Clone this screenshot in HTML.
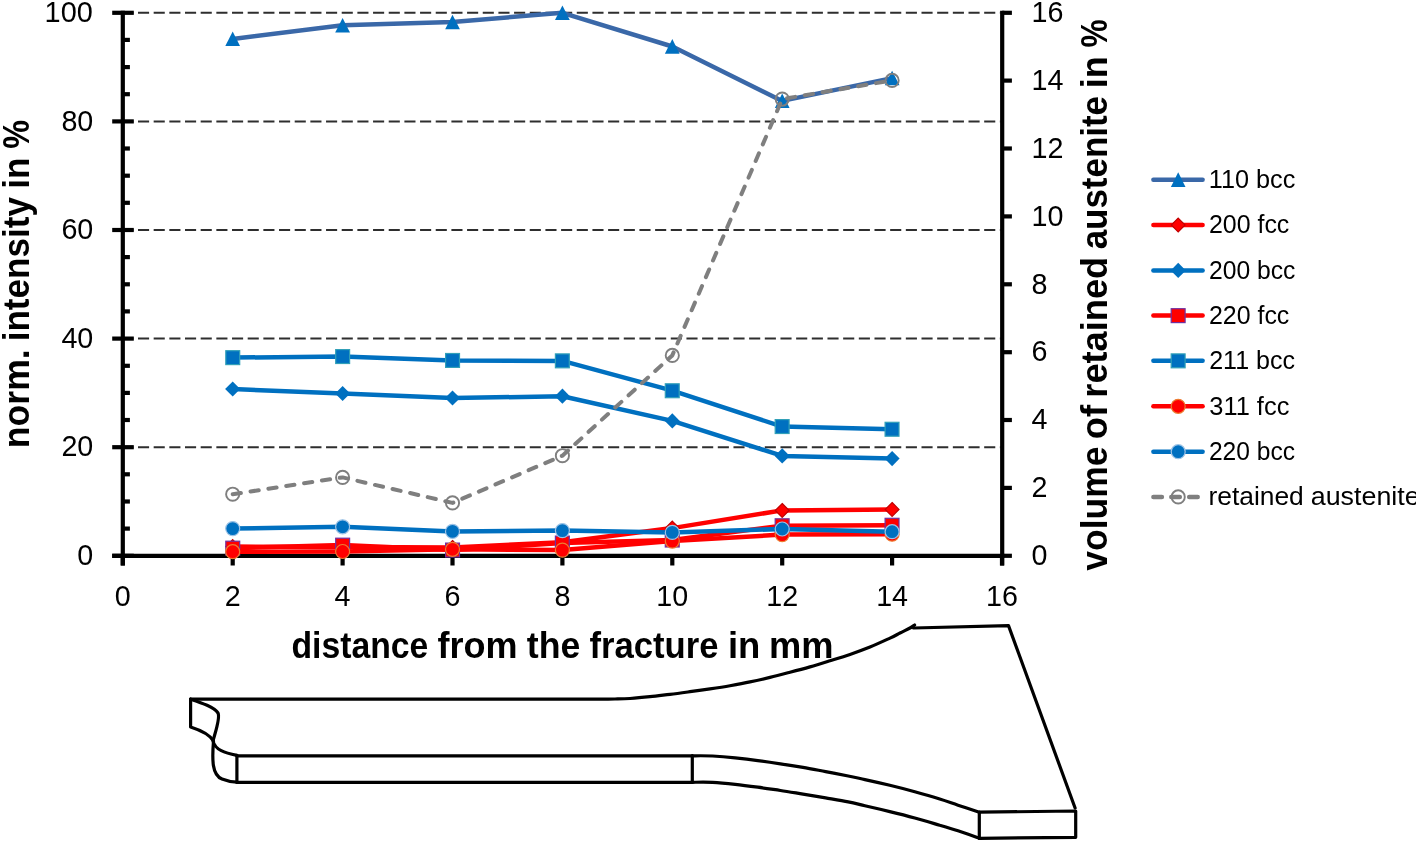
<!DOCTYPE html>
<html><head><meta charset="utf-8"><style>
html,body{margin:0;padding:0;background:#fff;}
svg{display:block;}
</style></head><body>
<svg width="1416" height="843" viewBox="0 0 1416 843" style="will-change:transform">
<rect width="1416" height="843" fill="#fff"/>
<line x1="122.33" y1="447.2" x2="1000.5" y2="447.2" stroke="#2e2e2e" stroke-width="2" stroke-dasharray="11.1 4.57"/>
<line x1="122.33" y1="338.6" x2="1000.5" y2="338.6" stroke="#2e2e2e" stroke-width="2" stroke-dasharray="11.1 4.57"/>
<line x1="122.33" y1="230.0" x2="1000.5" y2="230.0" stroke="#2e2e2e" stroke-width="2" stroke-dasharray="11.1 4.57"/>
<line x1="122.33" y1="121.4" x2="1000.5" y2="121.4" stroke="#2e2e2e" stroke-width="2" stroke-dasharray="11.1 4.57"/>
<line x1="122.33" y1="12.8" x2="1000.5" y2="12.8" stroke="#2e2e2e" stroke-width="2" stroke-dasharray="11.1 4.57"/>
<g stroke="#000" stroke-width="4.2" fill="none">
<line x1="122.8" y1="10.7" x2="122.8" y2="565.5"/>
<line x1="112.2" y1="555.8" x2="1004.3" y2="555.8"/>
<line x1="1002.2" y1="10.7" x2="1002.2" y2="565.5"/>
<line x1="112.2" y1="555.8" x2="133.8" y2="555.8"/>
<line x1="112.2" y1="447.2" x2="133.8" y2="447.2"/>
<line x1="112.2" y1="338.6" x2="133.8" y2="338.6"/>
<line x1="112.2" y1="230.0" x2="133.8" y2="230.0"/>
<line x1="112.2" y1="121.4" x2="133.8" y2="121.4"/>
<line x1="112.2" y1="12.8" x2="133.8" y2="12.8"/>
<line x1="122.8" y1="528.6" x2="129.9" y2="528.6"/>
<line x1="122.8" y1="501.5" x2="129.9" y2="501.5"/>
<line x1="122.8" y1="474.3" x2="129.9" y2="474.3"/>
<line x1="122.8" y1="420.0" x2="129.9" y2="420.0"/>
<line x1="122.8" y1="392.9" x2="129.9" y2="392.9"/>
<line x1="122.8" y1="365.8" x2="129.9" y2="365.8"/>
<line x1="122.8" y1="311.4" x2="129.9" y2="311.4"/>
<line x1="122.8" y1="284.3" x2="129.9" y2="284.3"/>
<line x1="122.8" y1="257.1" x2="129.9" y2="257.1"/>
<line x1="122.8" y1="202.8" x2="129.9" y2="202.8"/>
<line x1="122.8" y1="175.7" x2="129.9" y2="175.7"/>
<line x1="122.8" y1="148.5" x2="129.9" y2="148.5"/>
<line x1="122.8" y1="94.2" x2="129.9" y2="94.2"/>
<line x1="122.8" y1="67.1" x2="129.9" y2="67.1"/>
<line x1="122.8" y1="39.9" x2="129.9" y2="39.9"/>
<line x1="1002.2" y1="555.8" x2="1011.9" y2="555.8"/>
<line x1="1002.2" y1="487.9" x2="1011.9" y2="487.9"/>
<line x1="1002.2" y1="420.0" x2="1011.9" y2="420.0"/>
<line x1="1002.2" y1="352.2" x2="1011.9" y2="352.2"/>
<line x1="1002.2" y1="284.3" x2="1011.9" y2="284.3"/>
<line x1="1002.2" y1="216.4" x2="1011.9" y2="216.4"/>
<line x1="1002.2" y1="148.5" x2="1011.9" y2="148.5"/>
<line x1="1002.2" y1="80.6" x2="1011.9" y2="80.6"/>
<line x1="1002.2" y1="12.8" x2="1011.9" y2="12.8"/>
<line x1="122.8" y1="555.8" x2="122.8" y2="565.5"/>
<line x1="232.7" y1="555.8" x2="232.7" y2="565.5"/>
<line x1="342.6" y1="555.8" x2="342.6" y2="565.5"/>
<line x1="452.5" y1="555.8" x2="452.5" y2="565.5"/>
<line x1="562.4" y1="555.8" x2="562.4" y2="565.5"/>
<line x1="672.3" y1="555.8" x2="672.3" y2="565.5"/>
<line x1="782.2" y1="555.8" x2="782.2" y2="565.5"/>
<line x1="892.1" y1="555.8" x2="892.1" y2="565.5"/>
<line x1="1002.0" y1="555.8" x2="1002.0" y2="565.5"/>
</g>
<polyline points="232.7,38.9 342.6,25.3 452.5,22.0 562.4,12.8 672.3,46.5 782.2,100.9 892.1,78.1" fill="none" stroke="#3A68A8" stroke-width="4.5" stroke-linejoin="round" stroke-linecap="round"/>
<path d="M232.7,31.5L240.0,46.1L225.3,46.1Z" fill="#0070C0"/>
<path d="M342.6,17.9L350.0,32.5L335.2,32.5Z" fill="#0070C0"/>
<path d="M452.5,14.7L459.9,29.2L445.2,29.2Z" fill="#0070C0"/>
<path d="M562.4,5.4L569.8,20.0L555.0,20.0Z" fill="#0070C0"/>
<path d="M672.3,39.1L679.6,53.7L664.9,53.7Z" fill="#0070C0"/>
<path d="M782.2,93.5L789.6,108.1L774.9,108.1Z" fill="#0070C0"/>
<path d="M892.1,70.8L899.5,85.3L884.8,85.3Z" fill="#0070C0"/>
<polyline points="232.7,546.6 342.6,547.1 452.5,547.4 562.4,542.2 672.3,528.1 782.2,510.4 892.1,509.4" fill="none" stroke="#FF0000" stroke-width="4.5" stroke-linejoin="round" stroke-linecap="round"/>
<path d="M232.7,539.7L239.6,546.6L232.7,553.5L225.8,546.6Z" fill="#FF0000" stroke="#C00000" stroke-width="1.2"/>
<path d="M342.6,540.2L349.5,547.1L342.6,554.0L335.7,547.1Z" fill="#FF0000" stroke="#C00000" stroke-width="1.2"/>
<path d="M452.5,540.5L459.4,547.4L452.5,554.3L445.6,547.4Z" fill="#FF0000" stroke="#C00000" stroke-width="1.2"/>
<path d="M562.4,535.3L569.3,542.2L562.4,549.1L555.5,542.2Z" fill="#FF0000" stroke="#C00000" stroke-width="1.2"/>
<path d="M672.3,521.2L679.2,528.1L672.3,535.0L665.4,528.1Z" fill="#FF0000" stroke="#C00000" stroke-width="1.2"/>
<path d="M782.2,503.5L789.1,510.4L782.2,517.3L775.3,510.4Z" fill="#FF0000" stroke="#C00000" stroke-width="1.2"/>
<path d="M892.1,502.5L899.0,509.4L892.1,516.3L885.2,509.4Z" fill="#FF0000" stroke="#C00000" stroke-width="1.2"/>
<polyline points="232.7,389.1 342.6,393.4 452.5,398.1 562.4,396.2 672.3,420.9 782.2,455.9 892.1,458.6" fill="none" stroke="#0070C0" stroke-width="4.5" stroke-linejoin="round" stroke-linecap="round"/>
<path d="M232.7,381.5L240.2,389.1L232.7,396.6L225.1,389.1Z" fill="#0070C0"/>
<path d="M342.6,385.9L350.2,393.4L342.6,401.0L335.1,393.4Z" fill="#0070C0"/>
<path d="M452.5,390.5L460.1,398.1L452.5,405.6L445.0,398.1Z" fill="#0070C0"/>
<path d="M562.4,388.6L569.9,396.2L562.4,403.7L554.9,396.2Z" fill="#0070C0"/>
<path d="M672.3,413.3L679.8,420.9L672.3,428.4L664.8,420.9Z" fill="#0070C0"/>
<path d="M782.2,448.3L789.8,455.9L782.2,463.4L774.7,455.9Z" fill="#0070C0"/>
<path d="M892.1,451.1L899.6,458.6L892.1,466.2L884.6,458.6Z" fill="#0070C0"/>
<polyline points="232.7,548.2 342.6,545.1 452.5,550.1 562.4,543.0 672.3,540.1 782.2,525.7 892.1,525.3" fill="none" stroke="#FF0000" stroke-width="4.5" stroke-linejoin="round" stroke-linecap="round"/>
<rect x="225.8" y="541.2" width="13.9" height="13.9" fill="#FF0000" stroke="#7030A0" stroke-width="1.2"/>
<rect x="335.7" y="538.2" width="13.9" height="13.9" fill="#FF0000" stroke="#7030A0" stroke-width="1.2"/>
<rect x="445.6" y="543.1" width="13.9" height="13.9" fill="#FF0000" stroke="#7030A0" stroke-width="1.2"/>
<rect x="555.4" y="536.1" width="13.9" height="13.9" fill="#FF0000" stroke="#7030A0" stroke-width="1.2"/>
<rect x="665.3" y="533.1" width="13.9" height="13.9" fill="#FF0000" stroke="#7030A0" stroke-width="1.2"/>
<rect x="775.2" y="518.8" width="13.9" height="13.9" fill="#FF0000" stroke="#7030A0" stroke-width="1.2"/>
<rect x="885.1" y="518.3" width="13.9" height="13.9" fill="#FF0000" stroke="#7030A0" stroke-width="1.2"/>
<polyline points="232.7,357.6 342.6,356.5 452.5,360.5 562.4,360.9 672.3,390.7 782.2,426.6 892.1,429.3" fill="none" stroke="#0070C0" stroke-width="4.5" stroke-linejoin="round" stroke-linecap="round"/>
<rect x="225.8" y="350.7" width="13.9" height="13.9" fill="#0070C0" stroke="#31A0B8" stroke-width="1.2"/>
<rect x="335.7" y="349.6" width="13.9" height="13.9" fill="#0070C0" stroke="#31A0B8" stroke-width="1.2"/>
<rect x="445.6" y="353.5" width="13.9" height="13.9" fill="#0070C0" stroke="#31A0B8" stroke-width="1.2"/>
<rect x="555.4" y="353.9" width="13.9" height="13.9" fill="#0070C0" stroke="#31A0B8" stroke-width="1.2"/>
<rect x="665.3" y="383.8" width="13.9" height="13.9" fill="#0070C0" stroke="#31A0B8" stroke-width="1.2"/>
<rect x="775.2" y="419.6" width="13.9" height="13.9" fill="#0070C0" stroke="#31A0B8" stroke-width="1.2"/>
<rect x="885.1" y="422.3" width="13.9" height="13.9" fill="#0070C0" stroke="#31A0B8" stroke-width="1.2"/>
<polyline points="232.7,551.7 342.6,551.5 452.5,549.3 562.4,550.1 672.3,541.1 782.2,534.6 892.1,534.2" fill="none" stroke="#FF0000" stroke-width="4.5" stroke-linejoin="round" stroke-linecap="round"/>
<circle cx="232.7" cy="551.7" r="7.0" fill="#FF0000" stroke="#ED7D31" stroke-width="1.2"/>
<circle cx="342.6" cy="551.5" r="7.0" fill="#FF0000" stroke="#ED7D31" stroke-width="1.2"/>
<circle cx="452.5" cy="549.3" r="7.0" fill="#FF0000" stroke="#ED7D31" stroke-width="1.2"/>
<circle cx="562.4" cy="550.1" r="7.0" fill="#FF0000" stroke="#ED7D31" stroke-width="1.2"/>
<circle cx="672.3" cy="541.1" r="7.0" fill="#FF0000" stroke="#ED7D31" stroke-width="1.2"/>
<circle cx="782.2" cy="534.6" r="7.0" fill="#FF0000" stroke="#ED7D31" stroke-width="1.2"/>
<circle cx="892.1" cy="534.2" r="7.0" fill="#FF0000" stroke="#ED7D31" stroke-width="1.2"/>
<polyline points="232.7,528.6 342.6,526.8 452.5,531.4 562.4,530.6 672.3,532.4 782.2,529.0 892.1,531.7" fill="none" stroke="#0070C0" stroke-width="4.5" stroke-linejoin="round" stroke-linecap="round"/>
<circle cx="232.7" cy="528.6" r="7.0" fill="#0070C0" stroke="#9DC3E6" stroke-width="1.2"/>
<circle cx="342.6" cy="526.8" r="7.0" fill="#0070C0" stroke="#9DC3E6" stroke-width="1.2"/>
<circle cx="452.5" cy="531.4" r="7.0" fill="#0070C0" stroke="#9DC3E6" stroke-width="1.2"/>
<circle cx="562.4" cy="530.6" r="7.0" fill="#0070C0" stroke="#9DC3E6" stroke-width="1.2"/>
<circle cx="672.3" cy="532.4" r="7.0" fill="#0070C0" stroke="#9DC3E6" stroke-width="1.2"/>
<circle cx="782.2" cy="529.0" r="7.0" fill="#0070C0" stroke="#9DC3E6" stroke-width="1.2"/>
<circle cx="892.1" cy="531.7" r="7.0" fill="#0070C0" stroke="#9DC3E6" stroke-width="1.2"/>
<polyline points="232.7,494.2 342.6,477.4 452.5,502.9 562.4,455.7 672.3,355.4 782.2,99.1 892.1,80.4" fill="none" stroke="#7F7F7F" stroke-width="4" stroke-linejoin="round" stroke-linecap="round" stroke-dasharray="8.3 9.75"/>
<circle cx="232.7" cy="494.2" r="6.6" fill="none" stroke="#7F7F7F" stroke-width="1.9"/>
<circle cx="342.6" cy="477.4" r="6.6" fill="none" stroke="#7F7F7F" stroke-width="1.9"/>
<circle cx="452.5" cy="502.9" r="6.6" fill="none" stroke="#7F7F7F" stroke-width="1.9"/>
<circle cx="562.4" cy="455.7" r="6.6" fill="none" stroke="#7F7F7F" stroke-width="1.9"/>
<circle cx="672.3" cy="355.4" r="6.6" fill="none" stroke="#7F7F7F" stroke-width="1.9"/>
<circle cx="782.2" cy="99.1" r="6.6" fill="none" stroke="#7F7F7F" stroke-width="1.9"/>
<circle cx="892.1" cy="80.4" r="6.6" fill="none" stroke="#7F7F7F" stroke-width="1.9"/>
<g font-family="Liberation Sans, sans-serif" font-size="28.7" fill="#000">
<text x="93.3" y="565.0" text-anchor="end">0</text>
<text x="93.3" y="456.4" text-anchor="end">20</text>
<text x="93.3" y="347.8" text-anchor="end">40</text>
<text x="93.3" y="239.2" text-anchor="end">60</text>
<text x="93.3" y="130.6" text-anchor="end">80</text>
<text x="44.6" y="22.0" textLength="48.23" lengthAdjust="spacingAndGlyphs">100</text>
<text x="1031.5" y="565.0">0</text>
<text x="1031.5" y="497.1">2</text>
<text x="1031.5" y="429.2">4</text>
<text x="1031.5" y="361.4">6</text>
<text x="1031.5" y="293.5">8</text>
<text x="1031.5" y="225.6">10</text>
<text x="1031.5" y="157.7">12</text>
<text x="1031.5" y="89.8">14</text>
<text x="1031.5" y="22.0">16</text>
<text x="122.8" y="606.4" text-anchor="middle">0</text>
<text x="232.7" y="606.4" text-anchor="middle">2</text>
<text x="342.6" y="606.4" text-anchor="middle">4</text>
<text x="452.5" y="606.4" text-anchor="middle">6</text>
<text x="562.4" y="606.4" text-anchor="middle">8</text>
<text x="672.3" y="606.4" text-anchor="middle">10</text>
<text x="782.2" y="606.4" text-anchor="middle">12</text>
<text x="892.1" y="606.4" text-anchor="middle">14</text>
<text x="1002.0" y="606.4" text-anchor="middle">16</text>
</g>
<g font-family="Liberation Sans, sans-serif" font-weight="bold" font-size="37" fill="#000">
<text x="291.42" y="658" textLength="136.94" lengthAdjust="spacingAndGlyphs">distance</text>
<text x="437.48" y="658" textLength="80.05" lengthAdjust="spacingAndGlyphs">from</text>
<text x="526.86" y="658" textLength="53.56" lengthAdjust="spacingAndGlyphs">the</text>
<text x="589.41" y="658" textLength="129.08" lengthAdjust="spacingAndGlyphs">fracture</text>
<text x="727.95" y="658" textLength="32.41" lengthAdjust="spacingAndGlyphs">in</text>
<text x="768.91" y="658" textLength="64.54" lengthAdjust="spacingAndGlyphs">mm</text>
<g transform="translate(29.1,0) rotate(-90)">
<text x="-448.25" y="0" textLength="99.00" lengthAdjust="spacingAndGlyphs">norm.</text>
<text x="-341.35" y="0" textLength="144.24" lengthAdjust="spacingAndGlyphs">intensity</text>
<text x="-188.76" y="0" textLength="31.35" lengthAdjust="spacingAndGlyphs">in</text>
<text x="-148.71" y="0" textLength="28.86" lengthAdjust="spacingAndGlyphs">%</text>
</g>
<g transform="translate(1107.4,0) rotate(-90)">
<text x="-570.74" y="0" textLength="124.25" lengthAdjust="spacingAndGlyphs">volume</text>
<text x="-439.22" y="0" textLength="34.25" lengthAdjust="spacingAndGlyphs">of</text>
<text x="-397.69" y="0" textLength="140.87" lengthAdjust="spacingAndGlyphs">retained</text>
<text x="-249.32" y="0" textLength="153.32" lengthAdjust="spacingAndGlyphs">austenite</text>
<text x="-88.22" y="0" textLength="32.06" lengthAdjust="spacingAndGlyphs">in</text>
<text x="-47.59" y="0" textLength="28.23" lengthAdjust="spacingAndGlyphs">%</text>
</g>
</g>
<g font-family="Liberation Sans, sans-serif" font-size="25.4" fill="#000">
<line x1="1153.4" y1="179.7" x2="1202.6" y2="179.7" stroke="#3A68A8" stroke-width="4.5" stroke-linecap="round"/>
<path d="M1178.2,172.3L1185.5,186.9L1170.9,186.9Z" fill="#0070C0"/>
<text x="1208.72" y="188.0" textLength="86.64" lengthAdjust="spacingAndGlyphs">110 bcc</text>
<line x1="1153.4" y1="225.0" x2="1202.6" y2="225.0" stroke="#FF0000" stroke-width="4.5" stroke-linecap="round"/>
<path d="M1178.2,218.1L1185.1,225.0L1178.2,231.9L1171.3,225.0Z" fill="#FF0000" stroke="#C00000" stroke-width="1.2"/>
<text x="1208.95" y="233.3" textLength="80.41" lengthAdjust="spacingAndGlyphs">200 fcc</text>
<line x1="1153.4" y1="270.4" x2="1202.6" y2="270.4" stroke="#0070C0" stroke-width="4.5" stroke-linecap="round"/>
<path d="M1178.2,262.8L1185.8,270.4L1178.2,277.9L1170.7,270.4Z" fill="#0070C0"/>
<text x="1208.96" y="278.7" textLength="86.39" lengthAdjust="spacingAndGlyphs">200 bcc</text>
<line x1="1153.4" y1="315.6" x2="1202.6" y2="315.6" stroke="#FF0000" stroke-width="4.5" stroke-linecap="round"/>
<rect x="1171.2" y="308.7" width="13.9" height="13.9" fill="#FF0000" stroke="#7030A0" stroke-width="1.2"/>
<text x="1208.95" y="323.9" textLength="80.41" lengthAdjust="spacingAndGlyphs">220 fcc</text>
<line x1="1153.4" y1="360.8" x2="1202.6" y2="360.8" stroke="#0070C0" stroke-width="4.5" stroke-linecap="round"/>
<rect x="1171.2" y="353.9" width="13.9" height="13.9" fill="#0070C0" stroke="#31A0B8" stroke-width="1.2"/>
<text x="1209.17" y="369.1" textLength="85.88" lengthAdjust="spacingAndGlyphs">211 bcc</text>
<line x1="1153.4" y1="406.3" x2="1202.6" y2="406.3" stroke="#FF0000" stroke-width="4.5" stroke-linecap="round"/>
<circle cx="1178.2" cy="406.3" r="7.0" fill="#FF0000" stroke="#ED7D31" stroke-width="1.2"/>
<text x="1209.25" y="414.6" textLength="80.10" lengthAdjust="spacingAndGlyphs">311 fcc</text>
<line x1="1153.4" y1="451.7" x2="1202.6" y2="451.7" stroke="#0070C0" stroke-width="4.5" stroke-linecap="round"/>
<circle cx="1178.2" cy="451.7" r="7.0" fill="#0070C0" stroke="#9DC3E6" stroke-width="1.2"/>
<text x="1208.96" y="460.0" textLength="86.08" lengthAdjust="spacingAndGlyphs">220 bcc</text>
<line x1="1153.4" y1="496.9" x2="1202.6" y2="496.9" stroke="#7F7F7F" stroke-width="4.5" stroke-linecap="round" stroke-dasharray="8.5 9.4"/>
<circle cx="1178.2" cy="496.9" r="6.6" fill="none" stroke="#7F7F7F" stroke-width="1.9"/>
<text x="1208.45" y="505.2" textLength="95.35" lengthAdjust="spacingAndGlyphs">retained</text>
<text x="1310.76" y="505.2" textLength="108.93" lengthAdjust="spacingAndGlyphs">austenite</text>
</g>
<g stroke="#000" stroke-width="3.2" fill="none" stroke-linejoin="round" stroke-linecap="round">
<path d="M190.6,699.2 L598,699.2 C600.8,699.2 609.7,699.1 615.0,699.0 C620.3,698.9 624.2,698.9 630.0,698.5 C635.8,698.1 643.3,697.4 650.0,696.7 C656.7,696.0 663.3,695.1 670.0,694.3 C676.7,693.5 683.3,692.6 690.0,691.7 C696.7,690.8 703.3,689.9 710.0,688.9 C716.7,687.9 723.3,686.9 730.0,685.7 C736.7,684.5 743.3,683.3 750.0,681.9 C756.7,680.5 763.3,679.0 770.0,677.4 C776.7,675.8 783.3,674.0 790.0,672.2 C796.7,670.5 803.3,668.8 810.0,666.9 C816.7,665.0 823.3,662.9 830.0,660.8 C836.7,658.7 843.3,656.7 850.0,654.4 C856.7,652.1 863.3,649.7 870.0,647.0 C876.7,644.3 885.0,640.4 890.0,638.1 C895.0,635.8 896.7,634.7 900.0,633.0 C903.3,631.3 907.6,629.3 910.0,628.0 C912.4,626.7 913.8,625.5 914.6,625.0"/>
<path d="M913.5,628 L1008.5,625.6 L1075.1,808"/>
<path d="M190.6,699.2 L190.6,727 C200,730 210,735 213.5,741 C212,760 212,775 222,779 C227,781 232,782 236.9,782.2"/>
<path d="M190.6,699.2 C202,703 214,707 218,713 C220.5,718 215,733 213,741 C215,750 225,753 236.9,755.4"/>
<path d="M236.9,755.4 L236.9,782.2"/>
<path d="M236.9,755.8 L692.3,755.8 C695.7,755.8 705.5,755.6 712.6,756.0 C719.8,756.4 727.7,757.1 735.2,757.9 C742.7,758.7 750.3,759.6 757.8,760.6 C765.3,761.6 772.9,762.7 780.4,763.8 C787.9,764.9 795.5,766.1 803.0,767.4 C810.5,768.7 818.1,770.2 825.6,771.6 C833.1,773.0 841.7,774.7 848.2,776.0 C854.8,777.3 858.0,778.1 864.9,779.6 C871.8,781.1 881.5,783.3 889.8,785.3 C898.1,787.3 906.5,789.5 914.8,791.8 C923.1,794.1 932.5,796.8 939.7,799.0 C946.9,801.2 951.4,803.0 958.0,805.2 C964.6,807.4 975.8,811.0 979.3,812.2 L1075.7,811 L1075.7,837.3 L979.3,838.3"/>
<path d="M236.9,782.3 L692.3,782.3 C695.7,782.3 705.5,782.0 712.6,782.4 C719.8,782.8 727.7,783.6 735.2,784.4 C742.7,785.2 750.3,786.2 757.8,787.2 C765.3,788.2 772.9,789.4 780.4,790.5 C787.9,791.6 795.5,792.9 803.0,794.1 C810.5,795.3 818.1,796.6 825.6,797.9 C833.1,799.2 841.7,800.6 848.2,801.9 C854.8,803.2 858.0,804.1 864.9,805.7 C871.8,807.3 881.5,809.6 889.8,811.6 C898.1,813.6 906.5,815.7 914.8,818.0 C923.1,820.3 932.5,823.1 939.7,825.2 C946.9,827.3 951.4,828.6 958.0,830.8 C964.6,833.0 975.8,837.0 979.3,838.3"/>
<path d="M692.3,755.7 L692.3,782.3"/>
<path d="M979.3,812.2 L979.3,838.3"/>
</g>
</svg>
</body></html>
